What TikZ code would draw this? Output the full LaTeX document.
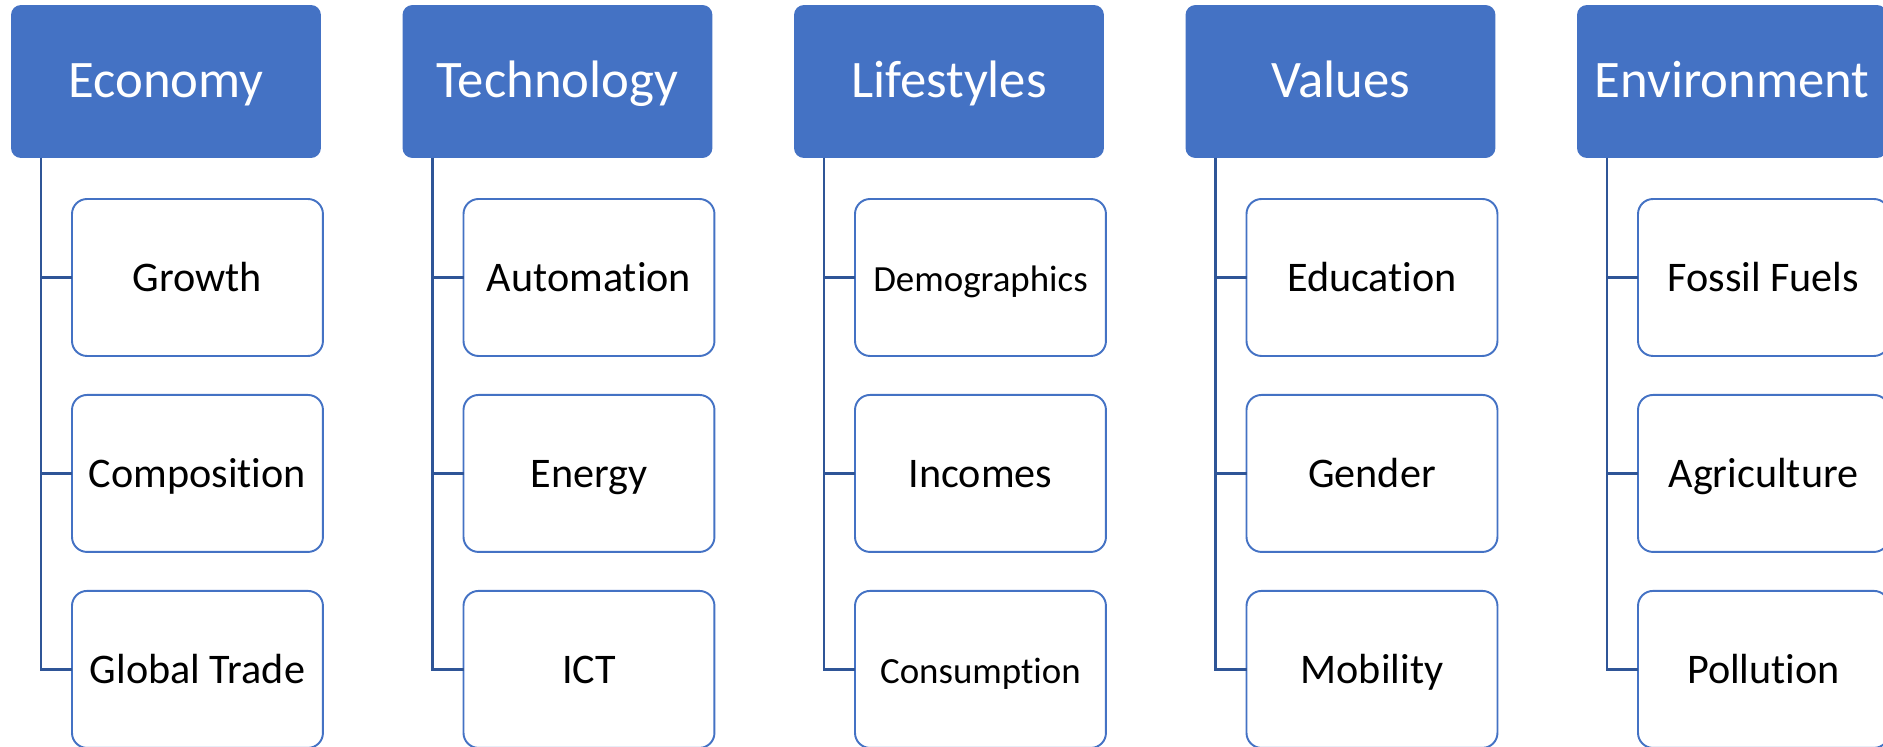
\documentclass[tikz,border=0pt]{standalone}
\usepackage{fontspec}
\setmainfont{Carlito}[RawFeature=-liga]
\usetikzlibrary{positioning}
\definecolor{accent}{HTML}{4472C4}
\definecolor{linkblue}{HTML}{2F5597}
\newcommand{\smalltext}{\fontsize{21pt}{25pt}\selectfont}
\tikzset{
  header/.style={fill=accent, text=white, rounded corners=0.2cm,
    minimum width=6.2cm, minimum height=3.06cm, inner sep=0pt, outer sep=0pt,
    text height=23.5pt, text depth=5pt,
    font=\fontsize{30pt}{36pt}\selectfont},
  item/.style={draw=accent, fill=white, line width=1.1pt, rounded corners=0.3cm,
    minimum width=5.02cm, minimum height=3.14cm, inner sep=0pt, outer sep=0pt,
    text height=19.2pt, text depth=3.7pt,
    font=\fontsize{24pt}{29pt}\selectfont},
  link/.style={draw=linkblue, line width=1.4pt}
}
\begin{document}
\begin{tikzpicture}[x=0.02cm, y=-0.02cm]
  \useasboundingbox (0,0) rectangle (1883,747);
  \foreach \title/\first/\second/\third [count=\i from 0] in {
      Economy/Growth/Composition/Global Trade,
      Technology/Automation/Energy/ICT,
      Lifestyles/{\smalltext Demographics}/Incomes/{\smalltext Consumption},
      Values/Education/Gender/Mobility,
      Environment/Fossil Fuels/Agriculture/Pollution}
  {
    \node[header, anchor=north west] (h-\i) at (11+391.5*\i, 5) {\title};
    \node[item, anchor=north west] (sub-\i-1) at (72+391.5*\i, 199) {\first};
    \node[item, below=0.78cm of sub-\i-1] (sub-\i-2) {\second};
    \node[item, below=0.78cm of sub-\i-2] (sub-\i-3) {\third};

    \foreach \j in {1,2,3}
      \draw[link] ([xshift=0.6cm]h-\i.south west) |- (sub-\i-\j.west);
  }
\end{tikzpicture}
\end{document}
